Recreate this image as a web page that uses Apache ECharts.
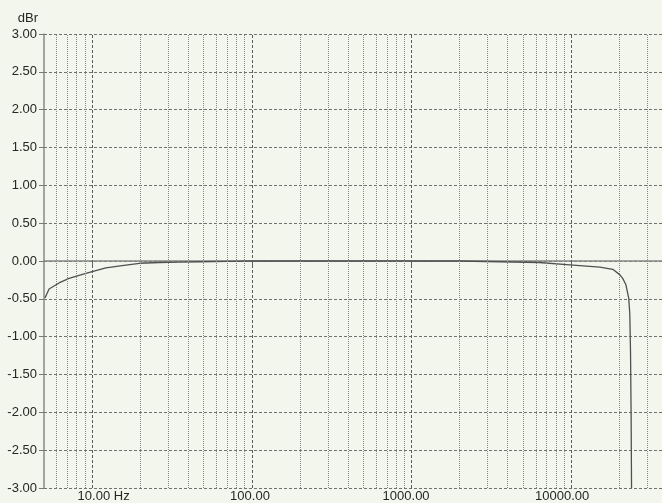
<!DOCTYPE html>
<html><head><meta charset="utf-8">
<script src="https://cdn.jsdelivr.net/npm/echarts@6/dist/echarts.min.js"></script>
<style>html,body{margin:0;padding:0;background:#f3f6ec}#c{width:662px;height:503px}</style>
</head><body><div id="c"></div>
<script>
const freqs = [5.07, 5.38, 6.21, 7.18, 8.29, 10, 12.2, 15.4, 19.8, 26.3, 35, 47, 70, 100, 200, 500, 1000, 2000, 3560, 6300, 9800, 15100, 18200, 20100, 21000, 21960, 22900, 23260, 23500, 23700, 23850];
const dbr = [-0.49, -0.37, -0.29, -0.23, -0.19, -0.14, -0.09, -0.06, -0.03, -0.02, -0.015, -0.01, -0.005, 0, 0, 0, 0, 0, -0.01, -0.02, -0.05, -0.08, -0.11, -0.18, -0.23, -0.31, -0.49, -0.70, -1.2, -2.0, -3.0];
const majorFreqs = [10, 100, 1000, 10000];
const majorInt = ['10', '100', '1000', '10000'];
const majorDec = ['.00 Hz', '.00', '.00', '.00'];
const minorFreqs = [6, 7, 8, 9, 20, 30, 40, 50, 60, 70, 80, 90, 200, 300, 400, 500, 600, 700, 800, 900, 2000, 3000, 4000, 5000, 6000, 7000, 8000, 9000, 20000, 30000];
const xMin = 5, xMax = 37000;
const yMin = -3, yMax = 3, yStep = 0.5;

const font = "'Liberation Sans', Arial, sans-serif";
const txt = {fontFamily: font, fontSize: 13, color: '#262626'};
const chart = echarts.init(document.getElementById('c'), null, {renderer: 'canvas'});
chart.setOption({
  backgroundColor: '#f3f6ec',
  animation: false,
  grid: {left: 44, right: 0, top: 34, bottom: 13, containLabel: false},
  xAxis: {
    type: 'log', logBase: 10, min: xMin, max: xMax,
    axisLine: {show: true, lineStyle: {color: '#888', width: 1.5}},
    splitLine: {show: false},
    axisTick: {show: true, customValues: majorFreqs, length: 4, lineStyle: {color: '#666'}},
    axisLabel: Object.assign({
      customValues: majorFreqs,
      margin: 2,
      formatter: function (v) {
        const i = majorFreqs.findIndex(f => Math.abs(f - v) / f < 1e-3);
        if (i < 0) return '';
        // invisible mirror parts keep the decimal point centred on the tick
        return '{h|' + majorDec[i] + '}{a|' + majorInt[i] + '}{a|' + majorDec[i] + '}{h|' + majorInt[i] + '}';
      },
      rich: {
        a: Object.assign({}, txt),
        h: Object.assign({}, txt, {color: 'rgba(0,0,0,0)'})
      }
    }, txt)
  },
  yAxis: {
    type: 'value', min: yMin, max: yMax, interval: yStep,
    name: 'dBr', nameLocation: 'end', nameGap: 9,
    nameTextStyle: Object.assign({align: 'right', padding: [0, 6, 0, 0]}, txt),
    axisLine: {show: true, lineStyle: {color: '#888', width: 1.5}},
    axisTick: {show: true, length: 5, lineStyle: {color: '#777'}},
    axisLabel: Object.assign({margin: 7, formatter: v => v.toFixed(2)}, txt),
    splitLine: {show: true, lineStyle: {color: '#707070', type: [3, 2], width: 1}}
  },
  series: [
    {
      type: 'line', data: [], silent: true,
      markLine: {
        silent: true, symbol: ['none', 'none'], label: {show: false}, animation: false,
        lineStyle: {color: '#868686', type: [1, 1], width: 1},
        data: minorFreqs.map(f => ({xAxis: f}))
      }
    },
    {
      type: 'line', data: [], silent: true,
      markLine: {
        silent: true, symbol: ['none', 'none'], label: {show: false}, animation: false,
        lineStyle: {color: '#5a5a5a', type: [3, 2], width: 1},
        data: majorFreqs.map(f => ({xAxis: f}))
      }
    },
    {
      type: 'line', showSymbol: false, smooth: false,
      lineStyle: {color: '#505050', width: 1.3},
      data: freqs.map((f, i) => [f, dbr[i]])
    }
  ]
});
</script></body></html>
